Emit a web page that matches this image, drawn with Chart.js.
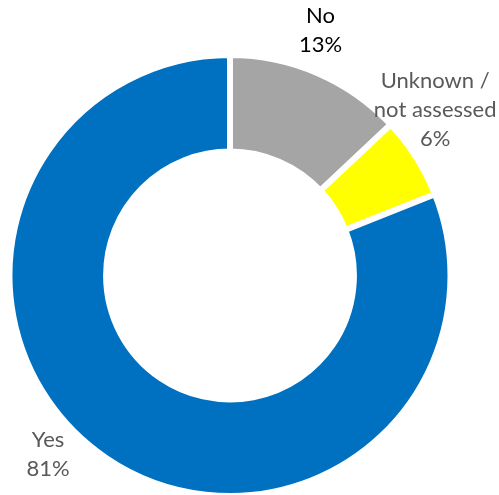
<!DOCTYPE html>
<html>
<head>
<meta charset="utf-8">
<script src="https://cdn.jsdelivr.net/npm/chart.js@4.4.0/dist/chart.umd.min.js"></script>
<style>
  html, body { margin: 0; padding: 0; background: #fff; overflow: hidden; }
  #wrap { width: 499px; height: 495px; }
</style>
</head>
<body>
<div id="wrap"><canvas id="donut"></canvas></div>
<script>
// Data
const categories = ['No', 'Unknown /\nnot assessed', 'Yes'];
const shares = [13, 6, 81];
const sliceColors = ['#A5A5A5', '#FFFF00', '#0070C0'];

// label look: colour and nudge from the slice's outer mid point
const labelColors = ['#000000', '#595959', '#595959'];
const labelNudge = [[3, -43], [19, -47], [-58, -3]];

// Draw "Name\nNN%" next to each slice
const sliceLabels = {
    id: 'sliceLabels',
    afterDatasetsDraw(chart) {
        const ctx = chart.ctx;
        const meta = chart.getDatasetMeta(0);
        ctx.save();
        ctx.font = '22px Lato, "Open Sans", sans-serif';
        ctx.textAlign = 'center';
        ctx.textBaseline = 'middle';
        meta.data.forEach((arc, i) => {
            const { x, y, startAngle, endAngle, outerRadius } = arc.getProps(['x', 'y', 'startAngle', 'endAngle', 'outerRadius'], true);
            const mid = (startAngle + endAngle) / 2;
            const ax = x + Math.cos(mid) * outerRadius + labelNudge[i][0];
            const ay = y + Math.sin(mid) * outerRadius + labelNudge[i][1];
            const lines = categories[i].split('\n').concat([shares[i] + '%']);
            const lh = 29;
            const top = ay - (lines.length - 1) * lh / 2;
            ctx.fillStyle = labelColors[i];
            lines.forEach((t, k) => ctx.fillText(t, ax, top + k * lh));
        });
        ctx.restore();
    }
};

new Chart(document.getElementById('donut').getContext('2d'), {
    type: 'doughnut',
    data: {
        labels: categories,
        datasets: [{
            data: shares,
            backgroundColor: sliceColors,
            borderColor: '#ffffff',
            borderWidth: 6
        }]
    },
    options: {
        responsive: true,
        maintainAspectRatio: false,
        animation: false,
        radius: 220.5,
        cutout: '56.2%',
        layout: { padding: { left: 8, right: 47, top: 56, bottom: 0 } },
        plugins: {
            legend: { display: false },
            tooltip: { enabled: false }
        }
    },
    plugins: [sliceLabels]
});
</script>
</body>
</html>
